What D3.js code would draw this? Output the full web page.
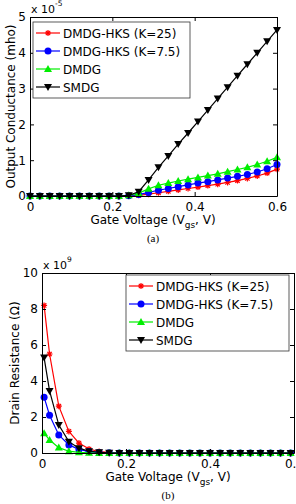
<!DOCTYPE html>
<html>
<head>
<meta charset="utf-8">
<script src="https://cdn.jsdelivr.net/npm/d3@7"></script>
<style>
  body { margin: 0; background: #fff; }
  svg { display: block; font-family: "DejaVu Sans", sans-serif; }
</style>
</head>
<body>
<div id="chart"></div>
<script>
// series labels + colours
var seriesNames = ["DMDG-HKS (K=25)", "DMDG-HKS (K=7.5)", "DMDG", "SMDG"];
var seriesColors = ["#ff0000", "#0000ff", "#00ee00", "#000000"];
var seriesMarkers = ["asterisk", "circle", "triUp", "triDown"];

var xTicks = [0, 0.2, 0.4, 0.6];

// (a) output conductance, units of 1e-5 mho
var vgsA = [0, 0.024, 0.048, 0.072, 0.096, 0.12, 0.144, 0.168, 0.192, 0.216, 0.24, 0.264, 0.288,
            0.312, 0.336, 0.36, 0.384, 0.408, 0.432, 0.456, 0.48, 0.504, 0.528, 0.552, 0.576, 0.6];
var gHks25 = [0, 0, 0, 0, 0, 0, 0, 0, 0, 0, 0, 0.02, 0.05, 0.09, 0.13, 0.17, 0.21, 0.25, 0.29, 0.33, 0.38, 0.43, 0.49, 0.56, 0.64, 0.75];
var gHks75 = [0, 0, 0, 0, 0, 0, 0, 0, 0, 0, 0.01, 0.04, 0.1, 0.16, 0.21, 0.26, 0.31, 0.36, 0.4, 0.45, 0.5, 0.55, 0.6, 0.67, 0.76, 0.88];
var gDmdg = [0, 0, 0, 0, 0, 0, 0, 0, 0, 0, 0.02, 0.08, 0.2, 0.3, 0.36, 0.42, 0.47, 0.52, 0.57, 0.62, 0.68, 0.74, 0.8, 0.88, 0.97, 1.08];
var gSmdg = [0, 0, 0, 0, 0, 0, 0, 0, 0, 0, 0.02, 0.12, 0.45, 0.8, 1.12, 1.45, 1.76, 2.08, 2.4, 2.72, 3.04, 3.36, 3.68, 4.0, 4.32, 4.64];
var yTicksA = [0, 1, 2, 3, 4, 5];

// (b) drain resistance, units of 1e9 ohm
var vgsB = [0.005, 0.018, 0.04, 0.064, 0.088, 0.112, 0.136, 0.16, 0.184, 0.208, 0.232, 0.256, 0.28,
            0.304, 0.328, 0.352, 0.376, 0.4, 0.424, 0.448, 0.472, 0.496, 0.52, 0.544, 0.568, 0.592];
var rHks25 = [8.2, 5.5, 2.6, 1.2, 0.55, 0.22, 0.08, 0.03, 0.01, 0, 0, 0, 0, 0, 0, 0, 0, 0, 0, 0, 0, 0, 0, 0, 0, 0];
var rHks75 = [3.1, 2.1, 1.0, 0.45, 0.2, 0.08, 0.03, 0.01, 0, 0, 0, 0, 0, 0, 0, 0, 0, 0, 0, 0, 0, 0, 0, 0, 0, 0];
var rDmdg = [1.1, 0.72, 0.3, 0.1, 0.04, 0.01, 0, 0, 0, 0, 0, 0, 0, 0, 0, 0, 0, 0, 0, 0, 0, 0, 0, 0, 0, 0];
var rSmdg = [5.3, 3.45, 1.55, 0.63, 0.27, 0.1, 0.04, 0.01, 0, 0, 0, 0, 0, 0, 0, 0, 0, 0, 0, 0, 0, 0, 0, 0, 0, 0];
var yTicksB = [0, 2, 4, 6, 8, 10];

var svg = d3.select("#chart").append("svg")
    .attr("width", 296)
    .attr("height", 504);

var fs = 12;

var drawMarker = function(g, type, color) {
    if (type == "circle") {
        g.append("circle").attr("r", 3.5).attr("fill", color);
    } else if (type == "triUp") {
        g.append("path").attr("d", "M0,-4L4,3L-4,3Z").attr("fill", color);
    } else if (type == "triDown") {
        g.append("path").attr("d", "M0,4L4,-3L-4,-3Z").attr("fill", color);
    } else {
        g.append("path").attr("d", "M-3,0H3M0,-3V3M-2.2,-2.2L2.2,2.2M-2.2,2.2L2.2,-2.2")
            .attr("stroke", color).attr("stroke-width", 1.2).attr("fill", "none");
    }
}

var drawPanel = function(cfg) {
    var x = d3.scaleLinear().domain([0, 0.6]).range([cfg.left, cfg.right]);
    var y = d3.scaleLinear().domain(cfg.yDomain).range([cfg.bottom, cfg.top]);
    var g = svg.append("g");

    // series
    var line = d3.line().x(function(d) { return x(d[0]); }).y(function(d) { return y(d[1]); });
    cfg.series.forEach(function(vals, i) {
        var pts = cfg.xs.map(function(v, j) { return [v, vals[j]]; });
        g.append("path").datum(pts)
            .attr("d", line)
            .attr("fill", "none")
            .attr("stroke", seriesColors[i])
            .attr("stroke-width", 1.2);
        pts.forEach(function(p) {
            var m = g.append("g").attr("transform", "translate(" + x(p[0]) + "," + y(p[1]) + ")");
            drawMarker(m, seriesMarkers[i], seriesColors[i]);
        });
    });

    // axes box, MATLAB style ticks inside on all sides
    var axB = g.append("g").attr("transform", "translate(0," + cfg.bottom + ")")
        .call(d3.axisBottom(x).tickValues(xTicks).tickSizeInner(-4).tickSizeOuter(0)
              .tickFormat(function(d) { return d == 0 ? "0" : d3.format(".1f")(d); }));
    var axT = g.append("g").attr("transform", "translate(0," + cfg.top + ")")
        .call(d3.axisTop(x).tickValues(xTicks).tickSizeInner(-4).tickSizeOuter(0).tickFormat(""));
    var axL = g.append("g").attr("transform", "translate(" + cfg.left + ",0)")
        .call(d3.axisLeft(y).tickValues(cfg.yTicks).tickSizeInner(-4).tickSizeOuter(0)
              .tickFormat(d3.format("d")));
    var axR = g.append("g").attr("transform", "translate(" + cfg.right + ",0)")
        .call(d3.axisRight(y).tickValues(cfg.yTicks).tickSizeInner(-4).tickSizeOuter(0).tickFormat(""));
    [axB, axT, axL, axR].forEach(function(a) {
        a.select(".domain").attr("stroke", "#000").attr("stroke-width", 1);
        a.selectAll(".tick line").attr("stroke", "#000");
        a.selectAll("text").attr("font-size", fs).attr("fill", "#000")
            .attr("font-family", "DejaVu Sans, sans-serif");
    });
    axB.selectAll("text").attr("dy", null).attr("y", 15);
    axL.selectAll("text").attr("x", -4);

    // exponent label
    var ex = g.append("text").attr("x", cfg.left + 1).attr("y", cfg.top - 4)
        .attr("font-size", 11).text("x 10");
    ex.append("tspan").attr("font-size", 7.5).attr("dy", -7).text(cfg.exponent);

    // axis labels
    var xl = g.append("text").attr("x", cfg.xLabelX).attr("y", cfg.bottom + 28)
        .attr("text-anchor", "middle").attr("font-size", fs).text("Gate Voltage (V");
    xl.append("tspan").attr("font-size", 9).attr("dy", 4).text("gs");
    xl.append("tspan").attr("dy", -4).text(", V)");

    g.append("text")
        .attr("transform", "translate(" + cfg.yLabelX + "," + ((cfg.top + cfg.bottom) / 2) + ") rotate(-90)")
        .attr("text-anchor", "middle").attr("font-size", fs).text(cfg.yLabel);

    g.append("text").attr("x", cfg.xLabelX).attr("y", cfg.bottom + 46)
        .attr("text-anchor", "middle").attr("font-size", 11)
        .attr("font-family", "Liberation Serif, serif").text(cfg.caption);

    // legend
    var lg = g.append("g").attr("transform", "translate(" + cfg.legend[0] + "," + cfg.legend[1] + ")");
    lg.append("rect").attr("width", cfg.legend[2]).attr("height", 76)
        .attr("fill", "#fff").attr("stroke", "#333").attr("stroke-width", 0.8);
    seriesNames.forEach(function(name, i) {
        var yy = 11 + i * 18;
        lg.append("line").attr("x1", 3).attr("x2", 27).attr("y1", yy).attr("y2", yy)
            .attr("stroke", seriesColors[i]).attr("stroke-width", 1.2);
        drawMarker(lg.append("g").attr("transform", "translate(15," + yy + ")"), seriesMarkers[i], seriesColors[i]);
        lg.append("text").attr("x", 30).attr("y", yy + 4.5).attr("font-size", fs).text(name);
    });
}

drawPanel({
    left: 30, right: 277, top: 17, bottom: 196,
    xs: vgsA, series: [gHks25, gHks75, gDmdg, gSmdg],
    yDomain: [0, 5], yTicks: yTicksA, exponent: "-5",
    yLabel: "Output Conductance (mho)", yLabelX: 15, xLabelX: 153, caption: "(a)",
    legend: [33, 22, 157]
});

drawPanel({
    left: 42, right: 294, top: 273, bottom: 453,
    xs: vgsB, series: [rHks25, rHks75, rDmdg, rSmdg],
    yDomain: [0, 10], yTicks: yTicksB, exponent: "9",
    yLabel: "Drain Resistance (\u03a9)", yLabelX: 19, xLabelX: 168, caption: "(b)",
    legend: [126, 275, 163]
});
</script>
</body>
</html>
